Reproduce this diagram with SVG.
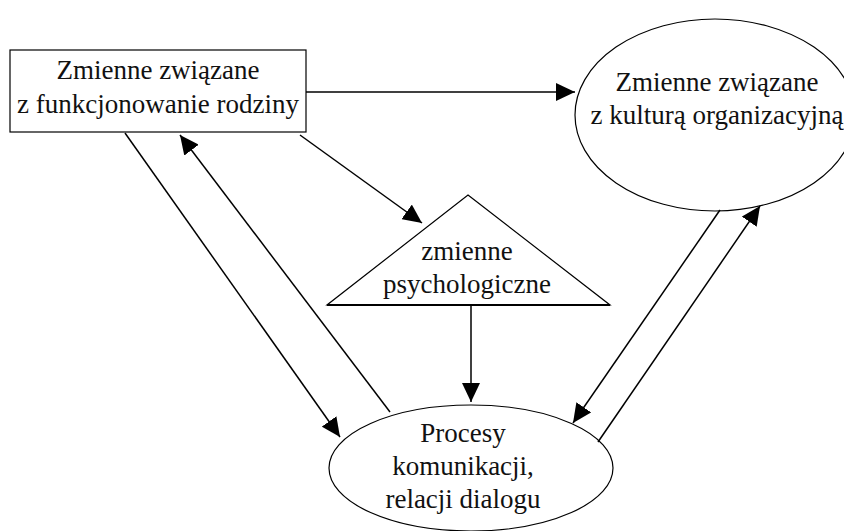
<svg xmlns="http://www.w3.org/2000/svg" width="844" height="531" viewBox="0 0 844 531">
<defs>
<marker id="ah" markerUnits="userSpaceOnUse" markerWidth="20" markerHeight="18" refX="19" refY="9" orient="auto">
<path d="M0,0 L19,9 L0,18 Z" fill="#000"/>
</marker>
<style>
.t{font-family:'Liberation Serif',serif;font-size:27px;fill:#111;text-anchor:middle}
.s{fill:#fff;stroke:#000;stroke-width:1.2}
.c{stroke:#000;stroke-width:1.5;fill:none}
</style>
</defs>
<rect width="844" height="531" fill="#fff"/>
<g id="rodzina">
<rect class="s" x="10" y="50" width="296" height="82" stroke-width="1.4"/>
<text class="t" x="158" y="79">Zmienne związane</text>
<text class="t" x="158" y="113">z funkcjonowanie rodziny</text>
</g>
<g id="kultura">
<ellipse class="s" cx="715" cy="115" rx="140" ry="96"/>
<text class="t" x="717" y="91">Zmienne związane</text>
<text class="t" x="717" y="124">z kulturą organizacyjną</text>
</g>
<g id="psychologiczne">
<polygon class="s" points="468,195 610,305 327,305"/>
<line x1="327" y1="305" x2="610" y2="305" stroke="#000" stroke-width="2"/>
<text class="t" x="467" y="260">zmienne</text>
<text class="t" x="467" y="293">psychologiczne</text>
</g>
<g id="procesy">
<ellipse class="s" cx="471" cy="468" rx="142" ry="63"/>
<text class="t" x="463" y="442">Procesy</text>
<text class="t" x="463" y="475">komunikacji,</text>
<text class="t" x="463" y="508">relacji dialogu</text>
</g>
<g id="connectors">
<line class="c" x1="306" y1="92" x2="575" y2="92" marker-end="url(#ah)"/>
<line class="c" x1="300" y1="135" x2="422" y2="223" marker-end="url(#ah)"/>
<line class="c" x1="125" y1="133" x2="340" y2="437" marker-end="url(#ah)"/>
<line class="c" x1="390" y1="412" x2="180" y2="135" marker-end="url(#ah)"/>
<line class="c" x1="471" y1="305" x2="471" y2="402" marker-end="url(#ah)"/>
<line class="c" x1="720" y1="210" x2="573" y2="423" marker-end="url(#ah)"/>
<line class="c" x1="598" y1="442" x2="760" y2="206" marker-end="url(#ah)"/>
</g>
</svg>
